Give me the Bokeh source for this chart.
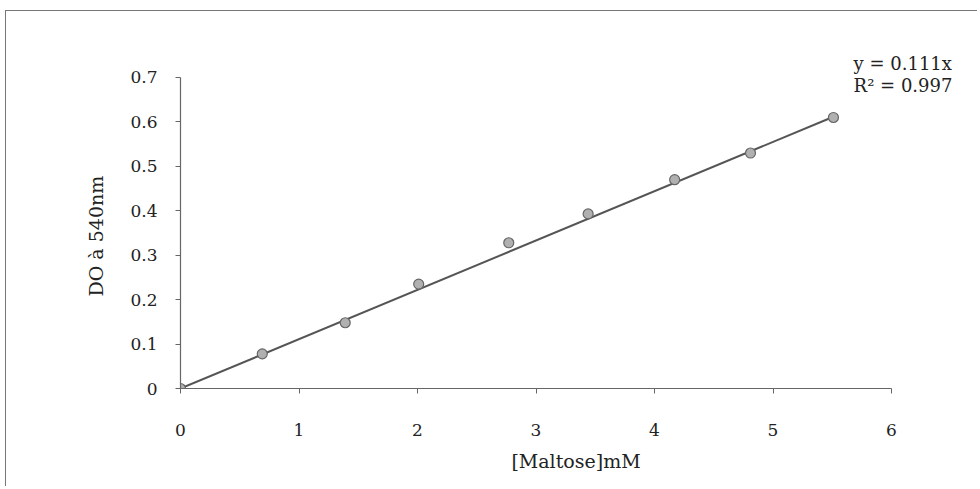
from bokeh.plotting import figure
from bokeh.models import Range1d, Label, FixedTicker, ColumnDataSource, Title
from bokeh.embed import file_html
from bokeh.resources import INLINE

maltose_mM = [0, 0.69, 1.39, 2.01, 2.77, 3.44, 4.17, 4.81, 5.51]
absorbance = [0, 0.078, 0.148, 0.235, 0.328, 0.393, 0.470, 0.530, 0.610]
slope = 0.111
r2 = 0.997
x_ticks = [0, 1, 2, 3, 4, 5, 6]
y_ticks = [0, 0.1, 0.2, 0.3, 0.4, 0.5, 0.6, 0.7]

FONT = "DejaVu Serif"
TXT = "#222222"

p = figure(width=972, height=476, output_backend="svg", toolbar_location=None,
           x_range=Range1d(0, 6.675), y_range=Range1d(0, 0.7675),
           min_border_left=174, min_border_right=7, min_border_top=36, min_border_bottom=99)
p.styles = {"border-top": "1px solid #777777", "border-left": "1px solid #777777",
            "margin-left": "5px", "margin-top": "10px"}
p.outline_line_color = None
p.xgrid.visible = False
p.ygrid.visible = False

fit_x = [0, maltose_mM[-1]]
fit_y = [slope * v for v in fit_x]
p.line(fit_x, fit_y, line_color="#555555", line_width=2)
src = ColumnDataSource(dict(x=maltose_mM, y=absorbance))
p.scatter("x", "y", source=src, size=10, fill_color="#b0b0b0", line_color="#666666", line_width=1.2)

for ax in (p.xaxis[0], p.yaxis[0]):
    ax.axis_line_color = "#666666"
    ax.axis_line_width = 1.2
    ax.major_tick_line_color = "#666666"
    ax.major_tick_in = 0
    ax.major_tick_out = 5
    ax.minor_tick_line_color = None
    ax.major_label_text_font = FONT
    ax.major_label_text_font_size = "17px"
    ax.major_label_text_color = TXT
    ax.axis_label_text_font = FONT
    ax.axis_label_text_font_size = "19px"
    ax.axis_label_text_font_style = "normal"
    ax.axis_label_text_color = TXT

p.xaxis[0].ticker = FixedTicker(ticks=x_ticks)
p.yaxis[0].ticker = FixedTicker(ticks=y_ticks)
p.xaxis[0].bounds = (0, 6)
p.yaxis[0].bounds = (0, 0.7)
p.xaxis[0].major_label_standoff = 30
p.yaxis[0].major_label_standoff = 18
p.xaxis.axis_label = "[Maltose]mM"
p.xaxis[0].axis_label_standoff = 11

ytitle = Title(text="DO à 540nm", align="left", offset=92, text_font=FONT, text_font_size="19px",
               text_font_style="normal", text_color=TXT, standoff=42)
p.add_layout(ytitle, "left")

p.add_layout(Label(x=5.68, y=0.7315, text=f"y = {slope}x", text_font=FONT, text_font_size="18px",
                   text_color=TXT, text_baseline="middle"))
p.add_layout(Label(x=5.68, y=0.682, text=f"R² = {r2}", text_font=FONT, text_font_size="18px",
                   text_color=TXT, text_baseline="middle"))

open("out.html", "w").write(file_html(p, INLINE))
